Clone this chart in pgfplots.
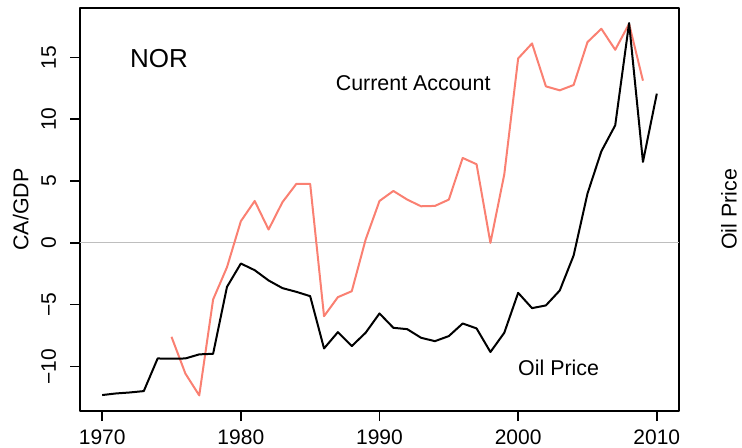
\documentclass[border=0pt]{standalone}
\usepackage{pgfplots}
\pgfplotsset{compat=1.18}
\usepackage{fontspec}
\setmainfont{Liberation Sans}
\definecolor{salmon}{RGB}{250,128,114}
\definecolor{zgray}{RGB}{190,190,190}
\begin{document}
\begin{tikzpicture}
\useasboundingbox (-40pt,-18.5pt) rectangle (331pt,205.5pt);
\begin{axis}[
  name=ax,
  at={(0,0)}, anchor=south west,
  scale only axis, width=299.5pt, height=201.5pt,
  xmin=1968.4, xmax=2011.6, ymin=-13.6, ymax=19.0,
  clip=false,
  axis line style={line width=0.75pt},
  xtick={1970,1980,1990,2000,2010},
  xticklabels={1970,1980,1990,2000,2010},
  ytick={-10,-5,0,5,10,15},
  yticklabels={−10,−5,0,5,10,15},
  tick align=outside, tick pos=left,
  major tick length=5pt,
  tick style={line width=0.75pt, black},
  ticklabel style={font=\fontsize{10.5}{12}\selectfont},
  xticklabel style={anchor=base, yshift=-11.75pt},
  yticklabel style={xshift=-7pt, rotate=90, anchor=base},
  line join=round,
]
\addplot[zgray, line width=0.5pt] coordinates {(1968.4,0) (2011.6,0)};
\addplot[salmon, line width=1pt] coordinates {
(1975,-7.6) (1976,-10.57) (1977,-12.34) (1978,-4.58) (1979,-1.97)
(1980,1.75) (1981,3.39) (1982,1.08) (1983,3.29) (1984,4.77)
(1985,4.77) (1986,-5.93) (1987,-4.39) (1988,-3.91) (1989,0.27)
(1990,3.39) (1991,4.2) (1992,3.5) (1993,2.96) (1994,2.99)
(1995,3.5) (1996,6.87) (1997,6.36) (1998,0.0) (1999,5.55)
(2000,14.92) (2001,16.13) (2002,12.66) (2003,12.34) (2004,12.77)
(2005,16.24) (2006,17.32) (2007,15.62) (2008,17.72) (2009,13.12)
};
\addplot[black, line width=1pt] coordinates {
(1970,-12.31) (1971,-12.18) (1972,-12.1) (1973,-11.99) (1974,-9.35)
(1975,-9.37) (1976,-9.35) (1977,-9.02) (1978,-8.97) (1979,-3.56)
(1980,-1.67) (1981,-2.21) (1982,-3.04) (1983,-3.66) (1984,-3.96)
(1985,-4.31) (1986,-8.54) (1987,-7.22) (1988,-8.35) (1989,-7.27)
(1990,-5.71) (1991,-6.87) (1992,-6.98) (1993,-7.68) (1994,-7.95)
(1995,-7.54) (1996,-6.52) (1997,-6.92) (1998,-8.83) (1999,-7.27)
(2000,-4.04) (2001,-5.28) (2002,-5.06) (2003,-3.85) (2004,-1.02)
(2005,3.99) (2006,7.41) (2007,9.51) (2008,17.78) (2009,6.55)
(2010,12.07)
};
\node[font=\fontsize{13}{15}\selectfont] at (axis cs:1974.09,14.9) {NOR};
\node[font=\fontsize{10.7}{12}\selectfont] at (axis cs:1992.43,12.93) {Current Account};
\node[font=\fontsize{10.7}{12}\selectfont] at (axis cs:2002.92,-10.1) {Oil Price};
\end{axis}
\node[rotate=90, anchor=base, font=\fontsize{10.7}{12}\selectfont] at ([xshift=-25.75pt]ax.west) {CA/GDP};
\node[rotate=90, anchor=base, font=\fontsize{10.7}{12}\selectfont] at ([xshift=28.85pt]ax.east) {Oil Price};
\end{tikzpicture}
\end{document}
